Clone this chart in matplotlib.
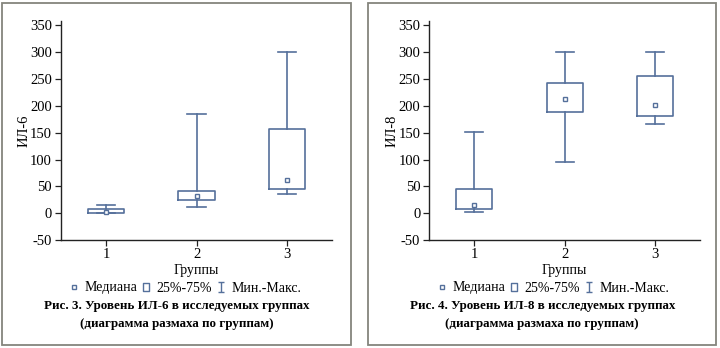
import matplotlib
matplotlib.use("Agg")
import matplotlib.pyplot as plt
from matplotlib.patches import Rectangle
from matplotlib.lines import Line2D
from matplotlib.path import Path

plt.rcParams['font.family'] = ['Liberation Serif', 'DejaVu Serif']
plt.rcParams['axes.unicode_minus'] = False

groups = [1, 2, 3]

il6_min = [0, 12, 36]
il6_q1 = [1, 25, 45]
il6_med = [3, 33, 62]
il6_q3 = [9, 42, 157]
il6_max = [15, 185, 300]

il8_min = [2, 95, 166]
il8_q1 = [8, 188, 181]
il8_med = [15, 212, 201]
il8_q3 = [45, 242, 256]
il8_max = [152, 300, 300]

yticks = [-50, 0, 50, 100, 150, 200, 250, 300, 350]
xlabel = "Группы"
legend_labels = ["Медиана", "25%-75%", "Мин.-Макс."]
captions = [
    ("Рис. 3. Уровень ИЛ-6 в исследуемых группах", "(диаграмма размаха по группам)"),
    ("Рис. 4. Уровень ИЛ-8 в исследуемых группах", "(диаграмма размаха по группам)"),
]
ylabels = ["ИЛ-6", "ИЛ-8"]

BLUE = '#55709b'
W, H = 720, 348
fig = plt.figure(figsize=(7.2, 3.48), dpi=100)

def px_rect(x0, y0, x1, y1):
    return [x0 / W, 1 - y1 / H, (x1 - x0) / W, (y1 - y0) / H]

rect_path = Path([(-0.4, -0.55), (0.4, -0.55), (0.4, 0.55), (-0.4, 0.55), (-0.4, -0.55)],
                 [Path.MOVETO, Path.LINETO, Path.LINETO, Path.LINETO, Path.CLOSEPOLY])
ibeam_path = Path([(-0.4, 0.6), (0.4, 0.6), (0, 0.6), (0, -0.6), (-0.4, -0.6), (0.4, -0.6)],
                  [Path.MOVETO, Path.LINETO, Path.MOVETO, Path.LINETO, Path.MOVETO, Path.LINETO])

datasets = [
    (il6_min, il6_q1, il6_med, il6_q3, il6_max),
    (il8_min, il8_q1, il8_med, il8_q3, il8_max),
]
axes_px = [(61, 20.7, 332, 240.3), (429.3, 20.7, 700, 240.3)]
frames_px = [(2, 3, 351, 344.5), (368.5, 3, 716, 344.5)]

for i, (data, apx, fpx) in enumerate(zip(datasets, axes_px, frames_px)):
    mn, q1, md, q3, mx = data
    fig.add_artist(Rectangle((fpx[0] / W, 1 - fpx[3] / H), (fpx[2] - fpx[0]) / W,
                             (fpx[3] - fpx[1]) / H, transform=fig.transFigure,
                             fill=False, edgecolor='#85857d', linewidth=1.3))
    ax = fig.add_axes(px_rect(*apx))
    stats = [dict(med=md[k], q1=q1[k], q3=q3[k], whislo=mn[k], whishi=mx[k], fliers=[])
             for k in range(len(groups))]
    lp = dict(color=BLUE, linewidth=1.2)
    ax.bxp(stats, positions=groups, widths=0.4, capwidths=0.2, showfliers=False,
           boxprops=lp, whiskerprops=lp, capprops=lp,
           medianprops=dict(linestyle='none'))
    ax.plot(groups, md, linestyle='none', marker='s', markersize=3.2,
            markerfacecolor='white', markeredgecolor=BLUE, markeredgewidth=1.0)
    ax.set_xlim(0.5, 3.5)
    ax.set_ylim(-50, 358)
    ax.set_yticks(yticks)
    ax.set_xticks(groups)
    ax.set_xticklabels([str(g) for g in groups])
    for s in ['top', 'right']:
        ax.spines[s].set_visible(False)
    for s in ['left', 'bottom']:
        ax.spines[s].set_color('#222222')
        ax.spines[s].set_linewidth(1.0)
    ax.tick_params(axis='both', labelsize=10.5, length=4, width=0.9, color='#222222')
    ax.tick_params(axis='y', pad=2.5)
    ax.tick_params(axis='x', pad=1.5)
    ax.set_ylabel(ylabels[i], fontsize=10.5)
    ax.yaxis.set_label_coords(-0.113, 0.5)
    ax.set_xlabel(xlabel, fontsize=10, labelpad=2)
    ax.patch.set_alpha(0)

    handles = [
        Line2D([], [], linestyle='none', marker='s', markersize=3.2, markerfacecolor='white',
               markeredgecolor=BLUE, markeredgewidth=1.0),
        Line2D([], [], linestyle='none', marker=rect_path, markersize=6.0, markerfacecolor='none',
               markeredgecolor=BLUE, markeredgewidth=1.0),
        Line2D([], [], linestyle='none', marker=ibeam_path, markersize=6.5,
               markeredgecolor=BLUE, markeredgewidth=1.0),
    ]
    cx = (apx[0] + apx[2]) / 2 - 11
    ax.legend(handles, legend_labels, loc='center', bbox_to_anchor=(cx / W, 1 - 288 / H),
              bbox_transform=fig.transFigure, ncol=3, frameon=False, fontsize=10,
              handlelength=0.6, handletextpad=0.45, columnspacing=0.35, borderpad=0)

    fcx = (fpx[0] + fpx[2]) / 2
    fig.text(fcx / W, 1 - 306 / H, captions[i][0], ha='center', va='center',
             fontsize=9.4, fontweight='bold')
    fig.text(fcx / W, 1 - 324 / H, captions[i][1], ha='center', va='center',
             fontsize=9.4, fontweight='bold')

fig.savefig('out.png', dpi=100)
